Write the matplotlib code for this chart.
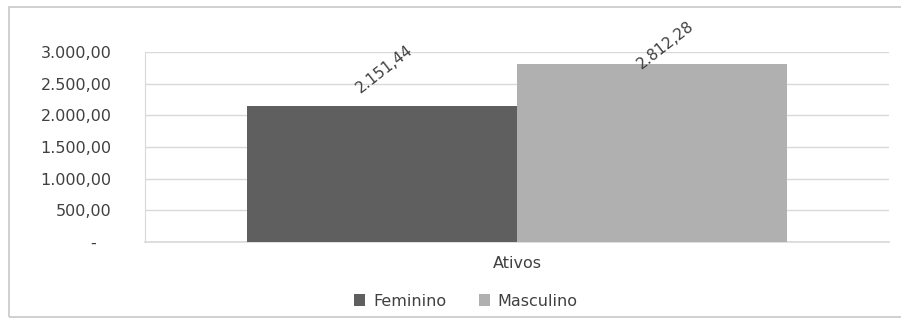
import matplotlib
matplotlib.use("Agg")
import matplotlib.pyplot as plt
from matplotlib.patches import Rectangle
from matplotlib.ticker import FixedLocator, FuncFormatter

# Data
category = "Ativos"
series_names = ["Feminino", "Masculino"]
series_values = [2151.44, 2812.28]
y_ticks = [0, 500, 1000, 1500, 2000, 2500, 3000]

colors = ["#5f5f5f", "#b0b0b0"]
text_color = "#404040"
grid_color = "#d9d9d9"


def br_number(v):
    s = f"{v:,.2f}"
    return s.replace(",", "X").replace(".", ",").replace("X", ".")


def tick_fmt(v, pos):
    if v == 0:
        return "-   "
    return br_number(v)


plt.rcParams["font.family"] = ["DejaVu Sans"]

fig = plt.figure(figsize=(9.01, 3.20), dpi=100)
ax = fig.add_axes([0.161, 0.244, 0.826, 0.5935])

bar_w = 0.363
offsets = [-bar_w / 2, bar_w / 2]
for name, val, off, c in zip(series_names, series_values, offsets, colors):
    ax.bar(off, val, width=bar_w, color=c, label=name, zorder=3)

ax.set_xlim(-0.5, 0.5)
ax.set_ylim(0, 3000)
ax.yaxis.set_major_locator(FixedLocator(y_ticks))
ax.yaxis.set_major_formatter(FuncFormatter(tick_fmt))
ax.set_xticks([0])
ax.set_xticklabels([category])

ax.grid(axis="y", color=grid_color, linewidth=1.0, zorder=0)
ax.axhline(0, color=grid_color, linewidth=1.2, zorder=1, clip_on=False)
for side in ["top", "right", "bottom"]:
    ax.spines[side].set_visible(False)
ax.spines["left"].set_color(grid_color)
ax.tick_params(axis="y", length=0, pad=24, labelsize=11.5, labelcolor=text_color)
ax.tick_params(axis="x", length=0, pad=10, labelsize=11.5, labelcolor=text_color)

# Rotated value labels above each bar
label_lift = [37, 19]
label_shift = [2, 13]
for off, val, dy, dx in zip(offsets, series_values, label_lift, label_shift):
    ax.annotate(br_number(val), xy=(off, val), xytext=(dx * 0.72, dy * 0.72),
                textcoords="offset points", ha="center", va="center",
                rotation=38, fontsize=11, color=text_color, zorder=4)

leg = fig.legend(loc="center", bbox_to_anchor=(466 / 901, 1 - 301 / 320),
                 ncol=2, frameon=False, fontsize=11.5, handlelength=0.7,
                 handleheight=0.7, handletextpad=0.5, columnspacing=2.0)
for t in leg.get_texts():
    t.set_color(text_color)

# Outer chart frame
fig.patches.append(Rectangle((9 / 901, 3 / 320), 1.2, 310 / 320,
                             transform=fig.transFigure, fill=False,
                             edgecolor="#c8c8c8", linewidth=1.2))

fig.savefig("out.png", dpi=100)
